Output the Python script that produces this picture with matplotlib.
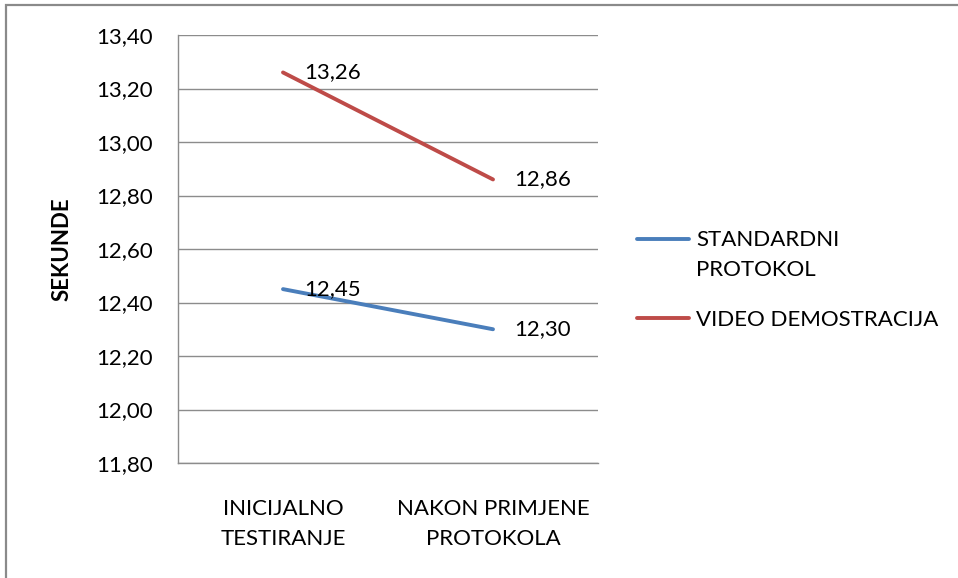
import matplotlib
matplotlib.use("Agg")
import matplotlib.pyplot as plt
from matplotlib.patches import Rectangle

categories = ["INICIJALNO\nTESTIRANJE", "NAKON PRIMJENE\nPROTOKOLA"]
series_names = ["STANDARDNI\nPROTOKOL", "VIDEO DEMOSTRACIJA"]
standardni = [12.45, 12.30]
video = [13.26, 12.86]
yticks = [11.80, 12.00, 12.20, 12.40, 12.60, 12.80, 13.00, 13.20, 13.40]

plt.rcParams['font.family'] = ['Lato', 'DejaVu Sans']
FS = 16

fig = plt.figure(figsize=(9.58, 5.78), dpi=100)
fig.patches.append(Rectangle((6/958, -0.1), 1.2, 1 - 5/578 + 0.1,
                             transform=fig.transFigure, fill=False,
                             edgecolor='#8a8a8a', linewidth=1.6))
ax = fig.add_axes([178/958, 1-463/578, 420/958, 428/578])

colors = ['#4A7EBB', '#BE4B48']
x = list(range(len(categories)))
for vals, name, c in zip([standardni, video], series_names, colors):
    ax.plot(x, vals, color=c, linewidth=2.8, label=name, solid_capstyle='round')
    for xi, v in zip(x, vals):
        ax.annotate(f"{v:.2f}".replace('.', ','), (xi, v), xytext=(21, 0),
                    textcoords='offset pixels', va='center', ha='left',
                    fontsize=FS, color='#000000')

ax.set_xlim(-0.5, 1.5)
ax.set_ylim(11.80, 13.40)
ax.set_yticks(yticks)
ax.set_yticklabels([f"{t:.2f}".replace('.', ',') for t in yticks], fontsize=FS)
ax.set_xticks(x)
ax.set_xticklabels(categories, fontsize=FS, linespacing=1.6)
ax.tick_params(axis='y', length=0, pad=18)
ax.tick_params(axis='x', length=0, pad=26)
ax.grid(axis='y', color='#8c8c8c', linewidth=1)
ax.set_axisbelow(True)
for s in ['top', 'right']:
    ax.spines[s].set_visible(False)
for s in ['left', 'bottom']:
    ax.spines[s].set_color('#8c8c8c')
    ax.spines[s].set_linewidth(1)
ax.set_ylabel("SEKUNDE", fontsize=FS, fontweight='bold', labelpad=17)

leg = fig.legend(loc='upper left', bbox_to_anchor=(637/958, 1-230/578),
                 frameon=False, fontsize=FS, handlelength=2.35, handletextpad=0.3,
                 labelspacing=1.37, borderaxespad=0, borderpad=0)
leg.texts[0].set_linespacing(1.6)
# align the first handle with the first text line, as in the reference
l0 = leg.legend_handles[0]
yd = l0.get_ydata()
l0.set_ydata([v + 11.5 for v in yd])

fig.savefig("out.png", dpi=100)
